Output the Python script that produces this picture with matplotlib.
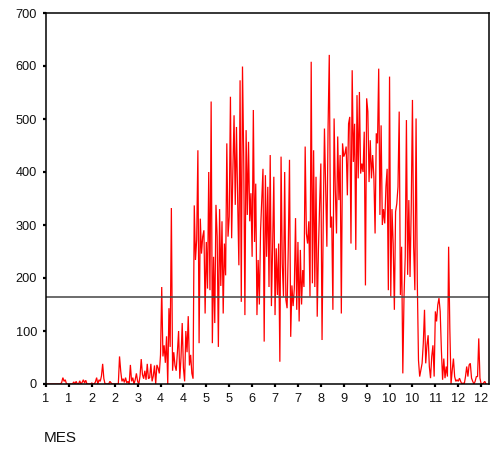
import numpy as np
import matplotlib
matplotlib.use("Agg")
import matplotlib.pyplot as plt

# daily values (one per case, in order)
seg_jan_feb = [0, 0, 0, 0, 0, 0, 0, 0, 0, 0, 0, 0,
               0, 3, 12, 5, 8, 0, 0, 0,
               0, 0, 0, 4, 0, 5, 0, 0,
               6, 0, 3, 8, 2, 7, 0, 0,
               0, 0, 2, 0, 0, 4, 12, 0,
               8, 5, 15, 38, 10, 0, 0, 0,
               0, 5, 2, 0, 0, 0, 0, 0, 0, 52]
seg_mar_apr = [24, 5, 10, 3, 12, 2, 5, 0,
               36, 5, 12, 0, 8, 20, 5, 0,
               15, 47, 18, 10, 25, 8, 38, 10,
               12, 38, 5, 15, 35, 0, 36, 30,
               20, 55, 183, 52, 73, 40, 90, 0, 143, 70, 332, 25, 60, 35,
               25, 60, 100, 10, 50, 115, 30, 5, 100, 60, 128, 35, 55, 20, 10]
seg_may_jun = [337, 234, 272, 441, 77, 312, 246, 278, 290, 133, 268, 180, 400,
               177, 533, 77, 240, 115, 338, 278, 70, 330, 185, 307, 133, 265,
               205, 454, 278, 316, 542, 275, 400, 507, 338, 485, 347, 224, 573,
               155, 599, 429, 130, 479, 319, 457, 307, 360, 240, 517, 268, 378,
               130, 234, 150, 290, 347, 406, 80, 394, 240, 372, 183, 432, 147]
seg_jul_aug = [259, 391, 130, 256, 168, 265, 42, 429, 227, 165,
               400, 159, 143, 259, 423, 89, 186, 147, 180, 313,
               140, 268, 118, 253, 150, 215, 183, 448, 284,
               265, 307, 165, 608, 190, 441, 183, 391,
               127, 253, 340, 416, 83, 307, 482, 372, 259, 485,
               621, 295, 316, 140, 501, 366, 284, 467, 347, 432,
               133, 454, 429, 435, 448, 356, 491, 504]
seg_sep_oct = [265, 592, 419, 491, 253, 545, 388, 551, 397, 416,
               400, 476, 186, 539, 514, 381, 460, 388, 432,
               391, 284, 473, 454, 595, 319, 488, 300, 330,
               303, 372, 406, 177, 580, 165, 330, 265,
               140, 325, 340, 372, 514, 168, 259, 20, 165,
               240, 498, 206, 347, 202, 334, 536, 259, 177, 501,
               196, 45]
seg_nov_dec = [14, 26, 39, 77, 140, 39, 73, 92, 33, 11, 52, 73, 14, 137, 118,
               149, 162, 137, 64, 8, 48, 11, 33, 14,
               259, 105, 0, 26, 48, 14, 5, 8, 5, 11, 5, 0, 2, 0, 14, 33, 14,
               36, 39, 11, 5, 0, 5, 14, 14, 86, 11, 0, 0, 2, 5, 0]

values = seg_jan_feb + seg_mar_apr + seg_may_jun + seg_jul_aug + seg_sep_oct + seg_nov_dec
ref_line = 164

tick_labels = ["1", "1", "2", "2", "3", "4", "4", "5", "5", "6",
               "7", "7", "8", "9", "9", "10", "10", "11", "12", "12"]
tick_step = 19

plt.rcParams['font.family'] = ['Liberation Sans', 'DejaVu Sans']

fig = plt.figure(figsize=(4.95, 4.5), dpi=100)
ax = fig.add_axes([46 / 495, 1 - 384 / 450, 443 / 495, 371 / 450])

x = np.arange(len(values))
ax.plot(x, values, color="#ff0000", lw=0.9, solid_joinstyle="miter")
ax.axhline(ref_line, color="#444444", lw=1.1)

ax.set_xlim(0, 367.5)
ax.set_ylim(0, 700)
ax.set_yticks(range(0, 701, 100))
ax.set_xticks(np.arange(len(tick_labels)) * tick_step)
ax.set_xticklabels(tick_labels)

for s in ax.spines.values():
    s.set_linewidth(1.1)
    s.set_color("black")
ax.tick_params(direction="out", length=2.5, width=1.6, labelsize=9.2,
               colors="black", labelcolor="#111111")
ax.tick_params(axis="y", pad=4)
ax.tick_params(axis="x", pad=4)

fig.text(44 / 495, 1 - 438 / 450, "MES", fontsize=11, va="center", ha="left",
         color="#111111")

fig.savefig("out.png", dpi=100)
